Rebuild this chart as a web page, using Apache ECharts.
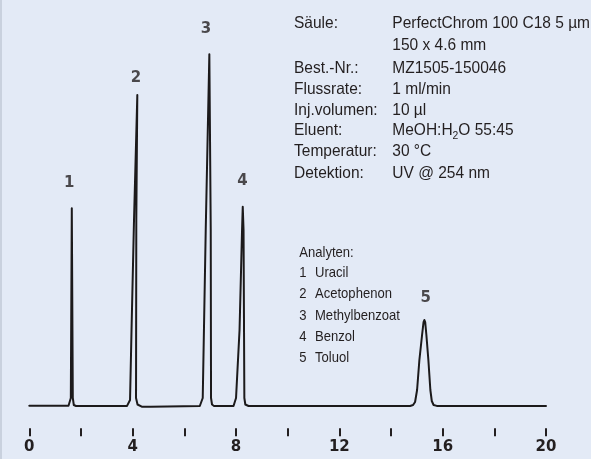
<!DOCTYPE html>
<html>
<head>
<meta charset="utf-8">
<script src="https://cdn.jsdelivr.net/npm/echarts@6/dist/echarts.min.js"></script>
<style>
  html, body { margin: 0; padding: 0; background: #e3eaf6; }
  #chart { width: 591px; height: 459px; }
</style>
</head>
<body>
<div id="chart"></div>
<script>
// Chromatogram trace: retention time (min) and detector signal (arbitrary units)
const traceTime = [
  0, 1.518, 1.576, 1.607, 1.645, 1.684, 1.723, 1.808,
  3.783, 3.860, 3.899, 3.957, 4.053, 4.181, 4.142, 4.131, 4.189, 4.352,
  4.70, 6.60, 6.674, 6.713, 6.829, 6.969, 7.023, 7.034, 7.073, 7.151,
  7.905, 8.002, 8.138, 8.235, 8.262, 8.293, 8.324, 8.362, 8.486,
  14.739, 14.855, 14.932, 15.010, 15.099, 15.203, 15.260, 15.292, 15.324, 15.370, 15.447, 15.524, 15.579, 15.649, 15.772,
  20
];
const traceSignal = [
  0, 0, 1.2, 7.7, 197.4, 7.7, 0.7, -0.3,
  -0.2, 0.7, 5.7, 75.7, 185.7, 310.7, 185.7, 7.7, 1.2, -1.0,
  -1.0, -0.3, 0.2, 7.7, 175.7, 351.4, 175.7, 7.7, 1.2, -0.3,
  -0.3, 7.7, 75.7, 175.7, 199.0, 175.7, 7.7, 1.2, -0.3,
  -0.3, 0.7, 3.7, 15.7, 45.7, 70.7, 83.5, 85.7, 83.5, 70.7, 45.7, 15.7, 4.7, 0.7, -0.2,
  -0.2
];

// Peak apexes and their numbers
const peakNumbers = ['1', '2', '3', '4', '5'];
const peakTime = [1.645, 4.181, 6.969, 8.262, 15.292];
const peakHeight = [197.4, 310.7, 351.4, 199.0, 85.7];

// Time axis
const timeMin = 0;
const timeMax = 20;
const timeTickStep = 2;
const timeLabelStep = 4;

// Method conditions
const conditionNames = ['Säule:', '', 'Best.-Nr.:', 'Flussrate:', 'Inj.volumen:', 'Eluent:', 'Temperatur:', 'Detektion:'];
const conditionValues = ['PerfectChrom 100 C18 5 µm', '150 x 4.6 mm', 'MZ1505-150046', '1 ml/min', '10 µl', ['MeOH:H', '2', 'O 55:45'], '30 °C', 'UV @ 254 nm'];

// Analytes
const analyteTitle = 'Analyten:';
const analyteNames = ['Uracil', 'Acetophenon', 'Methylbenzoat', 'Benzol', 'Toluol'];

// ---- styling ----
const ink = '#231f20';
const infoFont = '16.5px "Liberation Sans"';
const infoSubFont = '11px "Liberation Sans"';
const infoSqueeze = 0.94;          // slightly condensed lettering
const analyteFont = '14.5px "Liberation Sans"';
const analyteSqueeze = 0.9;
const peakLabelOffsets = [[-2.7, -25.6], [-1.3, -17.3], [-3.3, -25.3], [-0.4, -25.7], [1.4, -22.3]];

function textWidth(str, font) {
  const ctx = document.createElement('canvas').getContext('2d');
  ctx.font = font;
  return ctx.measureText(str).width;
}

// a left-aligned, vertically centred text element squeezed horizontally about its anchor
function label(text, x, y, font, squeeze) {
  return {
    type: 'text', x: x, y: y, scaleX: squeeze, silent: true,
    style: { text: text, x: 0, y: 0, font: font, fill: ink, align: 'left', verticalAlign: 'middle' }
  };
}

const graphics = [];
// thin darker strip on the left edge
graphics.push({ type: 'rect', left: 0, top: 0, shape: { width: 2, height: 459 }, style: { fill: '#c9d1de' }, silent: true });

// condition table
const condRowY = [23, 45.7, 68, 89, 110, 130.7, 151.7, 173];
const condNameX = 294;
const condValueX = 392.3;
conditionNames.forEach((name, i) => {
  if (name) graphics.push(label(name, condNameX, condRowY[i], infoFont, infoSqueeze));
  const v = conditionValues[i];
  if (Array.isArray(v)) {
    let x = condValueX;
    graphics.push(label(v[0], x, condRowY[i], infoFont, infoSqueeze));
    x += textWidth(v[0], infoFont) * infoSqueeze;
    graphics.push(label(v[1], x, condRowY[i] + 5.5, infoSubFont, infoSqueeze));
    x += textWidth(v[1], infoSubFont) * infoSqueeze;
    graphics.push(label(v[2], x, condRowY[i], infoFont, infoSqueeze));
  } else {
    graphics.push(label(v, condValueX, condRowY[i], infoFont, infoSqueeze));
  }
});

// analyte list
const analyteRowY = [253.3, 273.3, 294.3, 316, 336.7, 357.7];
graphics.push(label(analyteTitle, 299.3, analyteRowY[0], analyteFont, analyteSqueeze));
analyteNames.forEach((name, i) => {
  graphics.push(label(String(i + 1), 299.3, analyteRowY[i + 1], analyteFont, analyteSqueeze));
  graphics.push(label(name, 315, analyteRowY[i + 1], analyteFont, analyteSqueeze));
});

const chart = echarts.init(document.getElementById('chart'), null, { renderer: 'canvas' });
chart.setOption({
  animation: false,
  backgroundColor: '#e3eaf6',
  // plot spans down to the tick row; the signal zero sits 22.6 units above it
  grid: { left: 29.3, right: 45, top: 5.7, bottom: 30.7 },
  xAxis: {
    type: 'value',
    min: timeMin,
    max: timeMax,
    interval: timeTickStep,
    axisLine: { show: false, onZero: false },
    axisTick: { show: true, inside: false, length: 8, lineStyle: { color: ink, width: 2 } },
    axisLabel: {
      margin: 11,
      color: ink,
      fontFamily: 'DejaVu Sans',
      fontWeight: 'bold',
      fontSize: 15,
      formatter: v => (v % timeLabelStep === 0 ? String(v) : '')
    },
    splitLine: { show: false }
  },
  yAxis: { type: 'value', min: -22.6, max: 400, show: false },
  series: [
    {
      type: 'line',
      data: traceTime.map((t, i) => [t, traceSignal[i]]),
      showSymbol: false,
      symbol: 'none',
      lineStyle: { color: '#1c1a1b', width: 2, join: 'round', cap: 'round' },
      silent: true
    },
    {
      type: 'scatter',
      symbolSize: 0,
      data: peakTime.map((t, i) => ({
        value: [t, peakHeight[i]],
        label: { offset: peakLabelOffsets[i] }
      })),
      label: {
        show: true,
        position: 'inside',
        formatter: p => peakNumbers[p.dataIndex],
        color: ink,
        fontFamily: 'DejaVu Sans',
        fontWeight: 'bold',
        fontSize: 15
      },
      silent: true
    }
  ],
  graphic: graphics
});
</script>
</body>
</html>
